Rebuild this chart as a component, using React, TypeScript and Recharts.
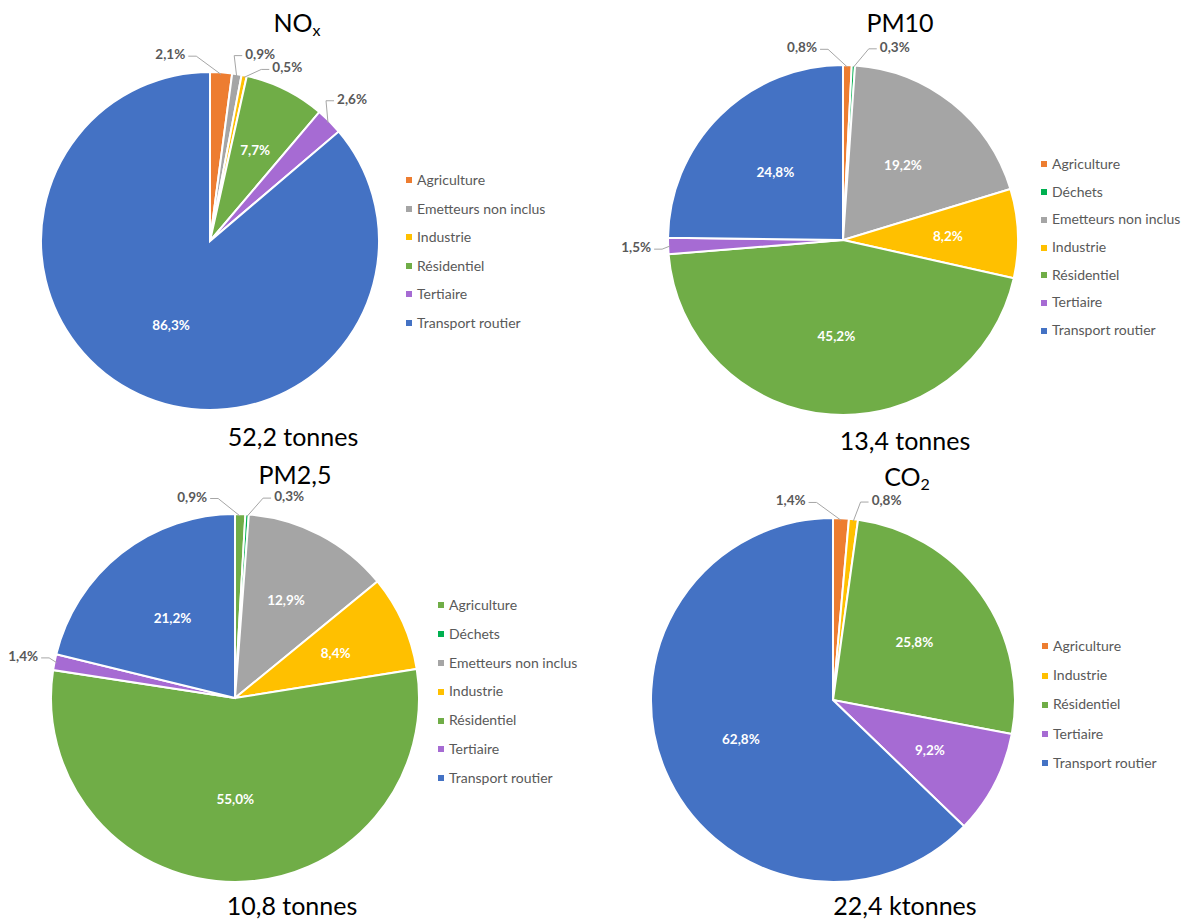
import React from "react";
import { PieChart, Pie, Cell, Legend } from "recharts";

const NOX_NAMES = ["Agriculture", "Emetteurs non inclus", "Industrie", "Résidentiel", "Tertiaire", "Transport routier"];
const NOX_VALUES = [2.1, 0.9, 0.5, 7.7, 2.6, 86.3];

const PM10_NAMES = ["Agriculture", "Déchets", "Emetteurs non inclus", "Industrie", "Résidentiel", "Tertiaire", "Transport routier"];
const PM10_VALUES = [0.8, 0.3, 19.2, 8.2, 45.2, 1.5, 24.8];

const PM25_NAMES = ["Agriculture", "Déchets", "Emetteurs non inclus", "Industrie", "Résidentiel", "Tertiaire", "Transport routier"];
const PM25_VALUES = [0.9, 0.3, 12.9, 8.4, 55.0, 1.4, 21.2];

const CO2_NAMES = ["Agriculture", "Industrie", "Résidentiel", "Tertiaire", "Transport routier"];
const CO2_VALUES = [1.4, 0.8, 25.8, 9.2, 62.8];

const COLORS: Record<string, string> = {
  Agriculture: "#ED7D31",
  "Déchets": "#00B050",
  "Emetteurs non inclus": "#A5A5A5",
  Industrie: "#FFC000",
  "Résidentiel": "#70AD47",
  Tertiaire: "#A66BD3",
  "Transport routier": "#4472C4",
};

const FONT = "Lato, 'Open Sans', sans-serif";
const RADIAN = Math.PI / 180;

const fmt = (v: number) => v.toFixed(1).replace(".", ",") + "%";

function buildData(names: string[], values: number[], override: Record<string, string> = {}) {
  return names.map((name, i) => ({
    name,
    value: values[i],
    fill: override[name] || COLORS[name],
  }));
}

function makeLabel(values: number[]) {
  // small slices close to 12 o'clock: the first one goes left, the others stack on the right
  const total = values.reduce((a, b) => a + b, 0);
  const mids: number[] = [];
  let acc = 0;
  values.forEach((v) => {
    mids.push(((acc + v / 2) / total) * 360);
    acc += v;
  });
  const nearTop = values.map((v, i) => v < 5 && (mids[i] < 20 || mids[i] > 345));
  const rightRank: number[] = [];
  let k = 0;
  values.forEach((_, i) => {
    if (nearTop[i] && i !== 0) rightRank[i] = k++;
  });

  return (props: any) => {
    const { cx, cy, outerRadius, index, value } = props;
    const theta = mids[index];
    const polar = (r: number, t: number) => [
      cx + r * Math.sin(t * RADIAN),
      cy - r * Math.cos(t * RADIAN),
    ];
    if (value >= 5) {
      const f = value < 15 ? 0.6 : 0.55;
      const [x, y] = polar(outerRadius * f, theta);
      return (
        <text x={x} y={y} fill="#fff" fontSize={13.5} fontWeight={700} fontFamily={FONT}
          textAnchor="middle" dominantBaseline="central">
          {fmt(value)}
        </text>
      );
    }
    let t = theta;
    let dist = outerRadius + 24;
    if (nearTop[index]) {
      const rank = rightRank[index];
      t = index === 0 ? -12 : 15 + 9 * rank;
      dist = outerRadius + (index === 0 ? 22 : 25 - 4 * rank);
    } else {
      dist = outerRadius + 32;
    }
    const [lx, ly] = polar(dist, t);
    const [ex, ey] = polar(outerRadius - 2, theta);
    const w = 32;
    const onLeft = lx < ex;
    const sx = onLeft ? lx + w / 2 + 2 : lx - w / 2 - 2;
    const elx = onLeft ? sx + 8 : sx - 8;
    return (
      <g>
        <polyline points={`${ex},${ey} ${elx},${ly + 2} ${sx},${ly + 2}`}
          fill="none" stroke="#A6A6A6" strokeWidth={1} />
        <text x={lx} y={ly} fill="#595959" fontSize={13.5} fontWeight={700} fontFamily={FONT}
          textAnchor="middle" dominantBaseline="central">
          {fmt(value)}
        </text>
      </g>
    );
  };
}

function legendContent(rowH: number) {
  return (props: any) => {
    const { payload } = props;
    return (
      <ul style={{ listStyle: "none", margin: 0, padding: 0, fontFamily: FONT, fontSize: 14 }}>
        {payload.map((p: any, i: number) => (
          <li key={i} style={{ height: rowH, lineHeight: `${rowH}px`, whiteSpace: "nowrap", color: "#595959" }}>
            <span style={{ display: "inline-block", width: 6, height: 6, background: p.color, marginRight: 5, verticalAlign: "middle", position: "relative", top: -1 }} />
            {p.value}
          </li>
        ))}
      </ul>
    );
  };
}

interface PanelProps {
  left: number;
  top: number;
  data: { name: string; value: number; fill: string }[];
  values: number[];
  cx: number;
  cy: number;
  r: number;
  legendLeft: number;
  legendTop: number;
  rowH: number;
}

function Panel({ left, top, data, values, cx, cy, r, legendLeft, legendTop, rowH }: PanelProps) {
  return (
    <div style={{ position: "absolute", left, top }}>
      <PieChart width={592} height={460} margin={{ top: 0, right: 0, bottom: 0, left: 0 }}>
        <Pie
          data={data}
          dataKey="value"
          nameKey="name"
          cx={cx}
          cy={cy}
          outerRadius={r}
          startAngle={90}
          endAngle={-270}
          stroke="#fff"
          strokeWidth={2}
          label={makeLabel(values)}
          labelLine={false}
          isAnimationActive={false}
        >
          {data.map((d, i) => (
            <Cell key={`cell-${i}`} fill={d.fill} />
          ))}
        </Pie>
        <Legend
          layout="vertical"
          align="right"
          verticalAlign="top"
          content={legendContent(rowH)}
          wrapperStyle={{ left: legendLeft, top: legendTop, width: 170 }}
        />
      </PieChart>
    </div>
  );
}

const textStyle = (x: number, y: number): React.CSSProperties => ({
  position: "absolute",
  left: x,
  top: y,
  transform: "translate(-50%, -50%)",
  fontFamily: FONT,
  fontSize: 25,
  color: "#000",
  whiteSpace: "nowrap",
  lineHeight: 1,
});

const subStyle: React.CSSProperties = { fontSize: 16, verticalAlign: "baseline", position: "relative", top: 4 };

export default function App() {
  const nox = buildData(NOX_NAMES, NOX_VALUES);
  const pm10 = buildData(PM10_NAMES, PM10_VALUES);
  const pm25 = buildData(PM25_NAMES, PM25_VALUES, { Agriculture: "#70AD47" });
  const co2 = buildData(CO2_NAMES, CO2_VALUES);

  return (
    <div style={{ position: "absolute", left: 0, top: 0, width: 1184, height: 920, background: "#fff", overflow: "hidden" }}>
      <Panel left={0} top={0} data={nox} values={NOX_VALUES} cx={210} cy={241} r={169}
        legendLeft={406} legendTop={166} rowH={28.5} />
      <Panel left={592} top={0} data={pm10} values={PM10_VALUES} cx={251} cy={240} r={175}
        legendLeft={449} legendTop={150} rowH={27.7} />
      <Panel left={0} top={460} data={pm25} values={PM25_VALUES} cx={235} cy={238} r={184}
        legendLeft={438} legendTop={131} rowH={28.8} />
      <Panel left={592} top={460} data={co2} values={CO2_VALUES} cx={241} cy={240} r={182}
        legendLeft={450} legendTop={171} rowH={29.2} />

      <div style={textStyle(297, 22)}>NO<span style={subStyle}>x</span></div>
      <div style={textStyle(900, 22)}>PM10</div>
      <div style={textStyle(295, 474)}>PM2,5</div>
      <div style={textStyle(907, 476)}>CO<span style={subStyle}>2</span></div>

      <div style={textStyle(293, 436)}>52,2 tonnes</div>
      <div style={textStyle(905, 440)}>13,4 tonnes</div>
      <div style={textStyle(292, 905)}>10,8 tonnes</div>
      <div style={textStyle(905, 905)}>22,4 ktonnes</div>
    </div>
  );
}
